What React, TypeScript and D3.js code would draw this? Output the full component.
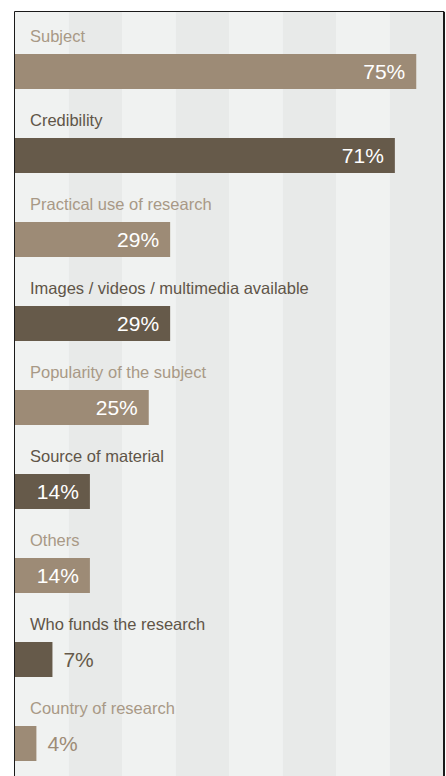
import React, { useRef, useEffect } from 'react';
import * as d3 from 'd3';

const categories = [
  'Subject',
  'Credibility',
  'Practical use of research',
  'Images / videos / multimedia available',
  'Popularity of the subject',
  'Source of material',
  'Others',
  'Who funds the research',
  'Country of research',
];
const values = [75, 71, 29, 29, 25, 14, 14, 7, 4];

const barColors = ['#9d8b76', '#665a4a'];
const labelColors = ['#a89986', '#5f5548'];

const width = 446;
const height = 776;
const frame = { left: 15, top: 12, right: 443, bottom: 790 };

function drawChart(root: d3.Selection<SVGSVGElement, unknown, null, undefined>) {
  root.selectAll('*').remove();

  const x = d3.scaleLinear().domain([0, 80]).range([frame.left, frame.right]);
  const y = d3
    .scaleBand<string>()
    .domain(categories)
    .range([frame.top, frame.top + 84 * categories.length])
    .paddingInner(0)
    .paddingOuter(0);

  // background stripes every 10%
  const ticks = x.ticks(8).slice(0, -1);
  root
    .append('g')
    .selectAll('rect')
    .data(ticks)
    .join('rect')
    .attr('x', (d) => x(d))
    .attr('y', frame.top)
    .attr('width', x(10) - x(0))
    .attr('height', frame.bottom - frame.top)
    .attr('fill', (d, i) => (i % 2 === 0 ? '#f0f2f1' : '#e8eae9'));

  const rows = root
    .append('g')
    .selectAll('g')
    .data(categories)
    .join('g')
    .attr('transform', (d) => `translate(0, ${y(d)})`);

  rows
    .append('text')
    .attr('x', 30)
    .attr('y', 30)
    .attr('font-family', '"Liberation Sans", Arial, sans-serif')
    .attr('font-size', 16.5)
    .attr('fill', (d, i) => labelColors[i % 2])
    .text((d) => d);

  rows
    .append('rect')
    .attr('x', x(0))
    .attr('y', 42)
    .attr('width', (d, i) => x(values[i]) - x(0))
    .attr('height', 35)
    .attr('fill', (d, i) => barColors[i % 2]);

  rows
    .append('text')
    .attr('y', 42 + 17.5 + 7.5)
    .attr('font-family', '"Liberation Sans", Arial, sans-serif')
    .attr('font-size', 21)
    .text((d, i) => `${values[i]}%`)
    .each(function (d, i) {
      const t = d3.select(this);
      const tw = (this as SVGTextElement).getComputedTextLength();
      const end = x(values[i]);
      const bw = end - x(0);
      if (bw > tw + 22) {
        t.attr('x', end - 11).attr('text-anchor', 'end').attr('fill', '#ffffff');
      } else {
        t.attr('x', end + 11).attr('text-anchor', 'start').attr('fill', barColors[i % 2]);
      }
    });

  // frame
  root
    .append('path')
    .attr('d', `M${frame.left - 0.5},${frame.bottom}V${frame.top - 0.5}H${frame.right + 1}V${frame.bottom}`)
    .attr('fill', 'none')
    .attr('stroke', '#1a1a1a')
    .attr('stroke-width', 1);
  root
    .append('line')
    .attr('x1', frame.right + 1)
    .attr('x2', frame.right + 1)
    .attr('y1', frame.top)
    .attr('y2', frame.bottom)
    .attr('stroke', '#1a1a1a')
    .attr('stroke-width', 2);
}

export default function App() {
  const ref = useRef<SVGSVGElement>(null);

  useEffect(() => {
    document.body.style.margin = '0';
    if (ref.current) {
      drawChart(d3.select(ref.current));
    }
  }, []);

  return (
    <svg
      ref={ref}
      width={width}
      height={height}
      style={{ display: 'block', background: '#ffffff' }}
    />
  );
}
